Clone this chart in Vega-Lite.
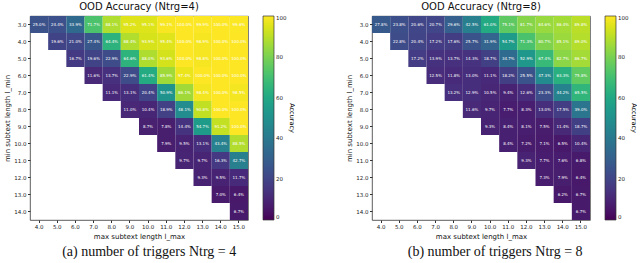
{
  "$schema": "https://vega.github.io/schema/vega-lite/v6.json",
  "padding": {"left": 3, "top": 1, "right": 0, "bottom": 0},
  "background": "white",
  "config": {
    "font": "DejaVu Sans",
    "view": {"stroke": "#333", "strokeWidth": 0.8},
    "axis": {"labelFontSize": 5.5, "titleFontSize": 7, "titleFontWeight": "normal", "labelColor": "#222", "titleColor": "#111", "tickColor": "#333", "domain": false, "grid": false, "tickSize": 2.5, "labelPadding": 1.5, "titlePadding": 3},
    "legend": {"labelFontSize": 5.5, "labelColor": "#222", "titleFontSize": 6.5, "titleFontWeight": "normal", "gradientLength": 204, "gradientThickness": 11, "gradientStrokeColor": "#333", "gradientStrokeWidth": 0.7, "offset": 14, "labelOffset": 3, "titlePadding": 3},
    "title": {"fontSize": 10, "fontWeight": "normal", "offset": 4, "color": "#111"}
  },
  "datasets": {
    "a": [
      {"lmin": 3, "lmax": 4, "acc": 25.0}, {"lmin": 3, "lmax": 5, "acc": 24.4}, {"lmin": 3, "lmax": 6, "acc": 33.9}, {"lmin": 3, "lmax": 7, "acc": 71.7}, {"lmin": 3, "lmax": 8, "acc": 88.1}, {"lmin": 3, "lmax": 9, "acc": 95.2}, {"lmin": 3, "lmax": 10, "acc": 95.1}, {"lmin": 3, "lmax": 11, "acc": 99.1}, {"lmin": 3, "lmax": 12, "acc": 100.0}, {"lmin": 3, "lmax": 13, "acc": 99.9}, {"lmin": 3, "lmax": 14, "acc": 100.0}, {"lmin": 3, "lmax": 15, "acc": 99.6},
      {"lmin": 4, "lmax": 5, "acc": 19.6}, {"lmin": 4, "lmax": 6, "acc": 21.0}, {"lmin": 4, "lmax": 7, "acc": 27.4}, {"lmin": 4, "lmax": 8, "acc": 64.4}, {"lmin": 4, "lmax": 9, "acc": 88.4}, {"lmin": 4, "lmax": 10, "acc": 93.9}, {"lmin": 4, "lmax": 11, "acc": 95.4}, {"lmin": 4, "lmax": 12, "acc": 100.0}, {"lmin": 4, "lmax": 13, "acc": 98.9}, {"lmin": 4, "lmax": 14, "acc": 100.0}, {"lmin": 4, "lmax": 15, "acc": 100.0},
      {"lmin": 5, "lmax": 6, "acc": 16.7}, {"lmin": 5, "lmax": 7, "acc": 19.6}, {"lmin": 5, "lmax": 8, "acc": 22.9}, {"lmin": 5, "lmax": 9, "acc": 64.6}, {"lmin": 5, "lmax": 10, "acc": 88.0}, {"lmin": 5, "lmax": 11, "acc": 93.6}, {"lmin": 5, "lmax": 12, "acc": 100.0}, {"lmin": 5, "lmax": 13, "acc": 98.8}, {"lmin": 5, "lmax": 14, "acc": 100.0}, {"lmin": 5, "lmax": 15, "acc": 100.0},
      {"lmin": 6, "lmax": 7, "acc": 11.6}, {"lmin": 6, "lmax": 8, "acc": 13.7}, {"lmin": 6, "lmax": 9, "acc": 22.9}, {"lmin": 6, "lmax": 10, "acc": 61.4}, {"lmin": 6, "lmax": 11, "acc": 85.9}, {"lmin": 6, "lmax": 12, "acc": 97.4}, {"lmin": 6, "lmax": 13, "acc": 100.0}, {"lmin": 6, "lmax": 14, "acc": 100.0}, {"lmin": 6, "lmax": 15, "acc": 100.0},
      {"lmin": 7, "lmax": 8, "acc": 11.1}, {"lmin": 7, "lmax": 9, "acc": 13.1}, {"lmin": 7, "lmax": 10, "acc": 20.4}, {"lmin": 7, "lmax": 11, "acc": 50.9}, {"lmin": 7, "lmax": 12, "acc": 86.1}, {"lmin": 7, "lmax": 13, "acc": 98.4}, {"lmin": 7, "lmax": 14, "acc": 100.0}, {"lmin": 7, "lmax": 15, "acc": 98.5},
      {"lmin": 8, "lmax": 9, "acc": 11.0}, {"lmin": 8, "lmax": 10, "acc": 10.4}, {"lmin": 8, "lmax": 11, "acc": 18.9}, {"lmin": 8, "lmax": 12, "acc": 48.1}, {"lmin": 8, "lmax": 13, "acc": 90.8}, {"lmin": 8, "lmax": 14, "acc": 100.0}, {"lmin": 8, "lmax": 15, "acc": 100.0},
      {"lmin": 9, "lmax": 10, "acc": 8.7}, {"lmin": 9, "lmax": 11, "acc": 7.8}, {"lmin": 9, "lmax": 12, "acc": 14.4}, {"lmin": 9, "lmax": 13, "acc": 54.7}, {"lmin": 9, "lmax": 14, "acc": 91.2}, {"lmin": 9, "lmax": 15, "acc": 100.0},
      {"lmin": 10, "lmax": 11, "acc": 7.9}, {"lmin": 10, "lmax": 12, "acc": 9.5}, {"lmin": 10, "lmax": 13, "acc": 13.1}, {"lmin": 10, "lmax": 14, "acc": 43.4}, {"lmin": 10, "lmax": 15, "acc": 88.5},
      {"lmin": 11, "lmax": 12, "acc": 9.7}, {"lmin": 11, "lmax": 13, "acc": 9.7}, {"lmin": 11, "lmax": 14, "acc": 16.3}, {"lmin": 11, "lmax": 15, "acc": 42.7},
      {"lmin": 12, "lmax": 13, "acc": 9.3}, {"lmin": 12, "lmax": 14, "acc": 9.5}, {"lmin": 12, "lmax": 15, "acc": 11.7},
      {"lmin": 13, "lmax": 14, "acc": 7.0}, {"lmin": 13, "lmax": 15, "acc": 6.4},
      {"lmin": 14, "lmax": 15, "acc": 6.7}
    ],
    "b": [
      {"lmin": 3, "lmax": 4, "acc": 27.8}, {"lmin": 3, "lmax": 5, "acc": 23.8}, {"lmin": 3, "lmax": 6, "acc": 20.6}, {"lmin": 3, "lmax": 7, "acc": 20.7}, {"lmin": 3, "lmax": 8, "acc": 29.6}, {"lmin": 3, "lmax": 9, "acc": 42.5}, {"lmin": 3, "lmax": 10, "acc": 61.0}, {"lmin": 3, "lmax": 11, "acc": 75.1}, {"lmin": 3, "lmax": 12, "acc": 81.7}, {"lmin": 3, "lmax": 13, "acc": 84.6}, {"lmin": 3, "lmax": 14, "acc": 86.4}, {"lmin": 3, "lmax": 15, "acc": 89.8},
      {"lmin": 4, "lmax": 5, "acc": 22.8}, {"lmin": 4, "lmax": 6, "acc": 20.4}, {"lmin": 4, "lmax": 7, "acc": 17.2}, {"lmin": 4, "lmax": 8, "acc": 17.6}, {"lmin": 4, "lmax": 9, "acc": 25.7}, {"lmin": 4, "lmax": 10, "acc": 31.9}, {"lmin": 4, "lmax": 11, "acc": 54.7}, {"lmin": 4, "lmax": 12, "acc": 71.3}, {"lmin": 4, "lmax": 13, "acc": 80.7}, {"lmin": 4, "lmax": 14, "acc": 85.1}, {"lmin": 4, "lmax": 15, "acc": 89.0},
      {"lmin": 5, "lmax": 6, "acc": 17.2}, {"lmin": 5, "lmax": 7, "acc": 13.9}, {"lmin": 5, "lmax": 8, "acc": 13.7}, {"lmin": 5, "lmax": 9, "acc": 14.3}, {"lmin": 5, "lmax": 10, "acc": 18.7}, {"lmin": 5, "lmax": 11, "acc": 34.7}, {"lmin": 5, "lmax": 12, "acc": 52.9}, {"lmin": 5, "lmax": 13, "acc": 67.4}, {"lmin": 5, "lmax": 14, "acc": 82.7}, {"lmin": 5, "lmax": 15, "acc": 86.7},
      {"lmin": 6, "lmax": 7, "acc": 12.5}, {"lmin": 6, "lmax": 8, "acc": 11.8}, {"lmin": 6, "lmax": 9, "acc": 13.0}, {"lmin": 6, "lmax": 10, "acc": 11.1}, {"lmin": 6, "lmax": 11, "acc": 18.2}, {"lmin": 6, "lmax": 12, "acc": 25.5}, {"lmin": 6, "lmax": 13, "acc": 47.3}, {"lmin": 6, "lmax": 14, "acc": 63.3}, {"lmin": 6, "lmax": 15, "acc": 75.8},
      {"lmin": 7, "lmax": 8, "acc": 13.2}, {"lmin": 7, "lmax": 9, "acc": 12.9}, {"lmin": 7, "lmax": 10, "acc": 10.5}, {"lmin": 7, "lmax": 11, "acc": 9.4}, {"lmin": 7, "lmax": 12, "acc": 12.6}, {"lmin": 7, "lmax": 13, "acc": 23.3}, {"lmin": 7, "lmax": 14, "acc": 44.2}, {"lmin": 7, "lmax": 15, "acc": 65.5},
      {"lmin": 8, "lmax": 9, "acc": 11.6}, {"lmin": 8, "lmax": 10, "acc": 9.7}, {"lmin": 8, "lmax": 11, "acc": 7.7}, {"lmin": 8, "lmax": 12, "acc": 8.3}, {"lmin": 8, "lmax": 13, "acc": 13.0}, {"lmin": 8, "lmax": 14, "acc": 17.5}, {"lmin": 8, "lmax": 15, "acc": 39.0},
      {"lmin": 9, "lmax": 10, "acc": 9.3}, {"lmin": 9, "lmax": 11, "acc": 8.4}, {"lmin": 9, "lmax": 12, "acc": 8.1}, {"lmin": 9, "lmax": 13, "acc": 7.5}, {"lmin": 9, "lmax": 14, "acc": 11.4}, {"lmin": 9, "lmax": 15, "acc": 18.7},
      {"lmin": 10, "lmax": 11, "acc": 8.4}, {"lmin": 10, "lmax": 12, "acc": 7.2}, {"lmin": 10, "lmax": 13, "acc": 7.1}, {"lmin": 10, "lmax": 14, "acc": 6.5}, {"lmin": 10, "lmax": 15, "acc": 10.4},
      {"lmin": 11, "lmax": 12, "acc": 9.3}, {"lmin": 11, "lmax": 13, "acc": 7.7}, {"lmin": 11, "lmax": 14, "acc": 7.6}, {"lmin": 11, "lmax": 15, "acc": 6.8},
      {"lmin": 12, "lmax": 13, "acc": 7.3}, {"lmin": 12, "lmax": 14, "acc": 7.9}, {"lmin": 12, "lmax": 15, "acc": 6.4},
      {"lmin": 13, "lmax": 14, "acc": 6.2}, {"lmin": 13, "lmax": 15, "acc": 6.7},
      {"lmin": 14, "lmax": 15, "acc": 6.7}
    ]
  },
  "resolve": {"scale": {"color": "independent"}, "legend": {"color": "independent"}},
  "spacing": 50,
  "hconcat": [
    {
      "title": {"text": "(a) number of triggers Ntrg = 4", "orient": "bottom", "anchor": "middle", "font": "Liberation Serif", "fontSize": 14, "offset": 5, "dx": 0},
      "vconcat": [
        {
          "title": "OOD Accuracy (Ntrg=4)",
          "width": 218, "height": 204,
          "data": {"name": "a"},
          "transform": [{"calculate": "format(datum.acc, '.1f') + '%'", "as": "label"}],
          "encoding": {
            "x": {"field": "lmax", "type": "ordinal", "axis": {"title": "max subtext length l_max", "labelAngle": 0, "labelExpr": "format(datum.value, '.1f')"}},
            "y": {"field": "lmin", "type": "ordinal", "axis": {"title": "min subtext length l_min", "labelExpr": "format(datum.value, '.1f')"}}
          },
          "layer": [
            {"mark": {"type": "rect"}, "encoding": {"color": {"field": "acc", "type": "quantitative", "scale": {"scheme": "viridis", "domain": [0, 100]}, "legend": {"title": "Accuracy", "values": [0, 20, 40, 60, 80, 100], "titleOrient": "right", "titleAngle": -90}}}},
            {"mark": {"type": "text", "fontSize": 4, "color": "white"}, "encoding": {"text": {"field": "label"}}}
          ]
        }
      ]
    },
    {
      "title": {"text": "(b) number of triggers Ntrg = 8", "orient": "bottom", "anchor": "middle", "font": "Liberation Serif", "fontSize": 14, "offset": 5, "dx": 4},
      "vconcat": [
        {
          "title": "OOD Accuracy (Ntrg=8)",
          "width": 218, "height": 204,
          "data": {"name": "b"},
          "transform": [{"calculate": "format(datum.acc, '.1f') + '%'", "as": "label"}],
          "encoding": {
            "x": {"field": "lmax", "type": "ordinal", "axis": {"title": "max subtext length l_max", "labelAngle": 0, "labelExpr": "format(datum.value, '.1f')"}},
            "y": {"field": "lmin", "type": "ordinal", "axis": {"title": "min subtext length l_min", "labelExpr": "format(datum.value, '.1f')"}}
          },
          "layer": [
            {"mark": {"type": "rect"}, "encoding": {"color": {"field": "acc", "type": "quantitative", "scale": {"scheme": "viridis", "domain": [0, 100]}, "legend": {"title": "Accuracy", "values": [0, 20, 40, 60, 80, 100], "titleOrient": "right", "titleAngle": -90}}}},
            {"mark": {"type": "text", "fontSize": 4, "color": "white"}, "encoding": {"text": {"field": "label"}}}
          ]
        }
      ]
    }
  ]
}
